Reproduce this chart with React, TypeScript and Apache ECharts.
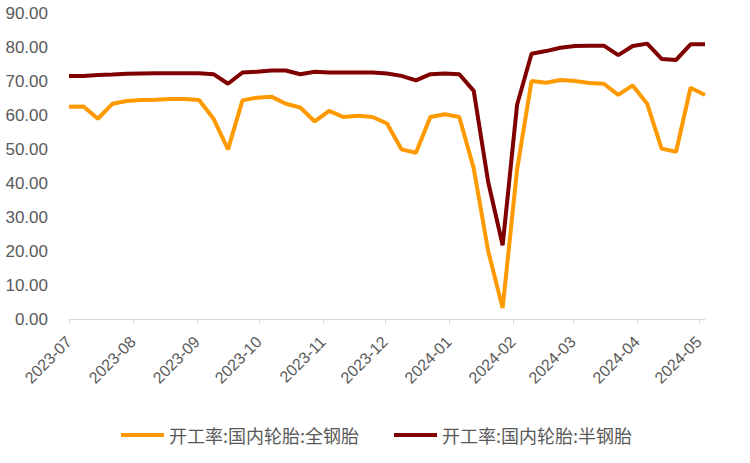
import React, { useEffect, useRef } from "react";
import * as echarts from "echarts";

const dates: string[] = [
  "2023-07-01", "2023-07-08", "2023-07-15", "2023-07-22", "2023-07-29",
  "2023-08-05", "2023-08-12", "2023-08-19", "2023-08-26",
  "2023-09-02", "2023-09-09", "2023-09-16", "2023-09-23", "2023-09-30",
  "2023-10-07", "2023-10-14", "2023-10-21", "2023-10-28",
  "2023-11-04", "2023-11-11", "2023-11-18", "2023-11-25",
  "2023-12-02", "2023-12-09", "2023-12-16", "2023-12-23", "2023-12-30",
  "2024-01-06", "2024-01-13", "2024-01-20", "2024-01-27",
  "2024-02-03", "2024-02-10", "2024-02-17", "2024-02-24",
  "2024-03-02", "2024-03-09", "2024-03-16", "2024-03-23", "2024-03-30",
  "2024-04-06", "2024-04-13", "2024-04-20", "2024-04-27",
  "2024-05-04",
];

const allSteel: number[] = [
  62.4, 62.5, 58.9, 63.3, 64.1, 64.4, 64.5, 64.7, 64.7, 64.4,
  58.9, 49.9, 64.3, 65.1, 65.4, 63.3, 62.2, 58.1, 61.2, 59.4,
  59.8, 59.4, 57.5, 49.9, 48.9, 59.4, 60.2, 59.4, 44.3, 20.0,
  3.2, 44.0, 70.0, 69.5, 70.3, 70.0, 69.4, 69.2, 65.9, 68.7,
  63.3, 50.1, 49.2, 68.0, 65.9,
];

const semiSteel: number[] = [
  71.5, 71.5, 71.8, 71.9, 72.1, 72.2, 72.3, 72.3, 72.3, 72.3,
  72.0, 69.2, 72.5, 72.7, 73.1, 73.1, 72.0, 72.7, 72.5, 72.5,
  72.5, 72.5, 72.2, 71.5, 70.2, 72.0, 72.2, 72.0, 67.1, 40.3,
  21.7, 63.0, 78.0, 78.8, 79.8, 80.3, 80.4, 80.4, 77.6, 80.3,
  81.0, 76.5, 76.2, 80.8, 80.8,
];

const seriesNames: string[] = ["开工率:国内轮胎:全钢胎", "开工率:国内轮胎:半钢胎"];
const colors: string[] = ["#FF9900", "#800000"];

export default function App() {
  const ref = useRef<HTMLDivElement>(null);
  useEffect(() => {
    if (!ref.current) return;
    const chart = echarts.init(ref.current, undefined, { renderer: "svg" });
    const textColor = "#595959";
    chart.setOption({
      animation: false,
      grid: { left: 69, right: 45, top: 13, bottom: 144, containLabel: false },
      legend: {
        left: 116,
        top: 421,
        itemWidth: 43,
        itemHeight: 4,
        itemGap: 35,
        icon: "rect",
        data: seriesNames,
        textStyle: {
          color: textColor,
          fontSize: 18,
          fontFamily: "Noto Sans CJK SC",
        },
      },
      xAxis: {
        type: "time",
        min: dates[0],
        max: dates[dates.length - 1],
        splitNumber: 10,
        minInterval: 28 * 86400000,
        maxInterval: 31 * 86400000,
        axisLine: { show: true, lineStyle: { color: "#D9D9D9", width: 1 } },
        axisTick: { show: true, length: 5, lineStyle: { color: "#D9D9D9" } },
        splitLine: { show: false },
        axisLabel: {
          formatter: "{yyyy}-{MM}",
          rotate: 45,
          margin: 20,
          color: textColor,
          fontSize: 16,
          fontFamily: "Liberation Sans",
          hideOverlap: false,
        },
      },
      yAxis: {
        type: "value",
        min: 0,
        max: 90,
        interval: 10,
        axisLine: { show: false },
        axisTick: { show: false },
        splitLine: { show: false },
        axisLabel: {
          formatter: (v: number) => v.toFixed(2),
          margin: 21,
          color: textColor,
          fontSize: 17,
          fontFamily: "Liberation Sans",
        },
      },
      series: [
        {
          name: seriesNames[0],
          type: "line",
          symbol: "none",
          data: dates.map((d, i) => [d, allSteel[i]]),
          lineStyle: { color: colors[0], width: 4 },
          itemStyle: { color: colors[0] },
        },
        {
          name: seriesNames[1],
          type: "line",
          symbol: "none",
          data: dates.map((d, i) => [d, semiSteel[i]]),
          lineStyle: { color: colors[1], width: 4 },
          itemStyle: { color: colors[1] },
        },
      ],
    });
    return () => chart.dispose();
  }, []);
  return <div ref={ref} style={{ width: 750, height: 463, position: "absolute", left: 0, top: 0 }} />;
}
